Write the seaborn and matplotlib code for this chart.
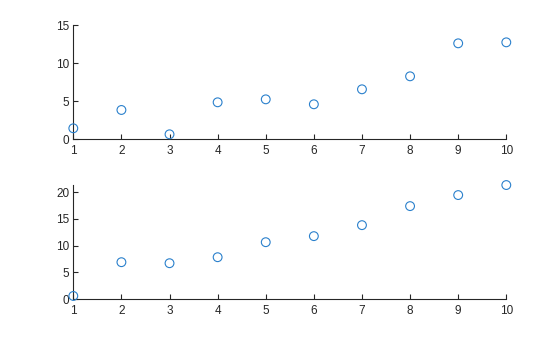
import matplotlib
matplotlib.use("Agg")
import matplotlib.pyplot as plt
import seaborn as sns
import pandas as pd

x = [1, 2, 3, 4, 5, 6, 7, 8, 9, 10]
y_top = [1.45, 3.86, 0.66, 4.87, 5.26, 4.61, 6.58, 8.29, 12.63, 12.76]
y_bottom = [0.62, 6.92, 6.73, 7.85, 10.65, 11.78, 13.83, 17.38, 19.44, 21.31]
x_ticks = [1, 2, 3, 4, 5, 6, 7, 8, 9, 10]
top_yticks = [0, 5, 10, 15]
bottom_yticks = [0, 5, 10, 15, 20]

sns.set_style("ticks")
plt.rcParams["font.family"] = ["Liberation Sans", "DejaVu Sans"]

fig = plt.figure(figsize=(5.6, 3.37), dpi=100)
ax1 = fig.add_axes([0.1309, 0.5866, 0.7732, 0.3383])
ax2 = fig.add_axes([0.1309, 0.1119, 0.7732, 0.3390])

color = "#2a80cc"
text_color = "#262626"

for ax, yv, yt, ymax in [(ax1, y_top, top_yticks, 15), (ax2, y_bottom, bottom_yticks, max(y_bottom))]:
    df = pd.DataFrame({"x": x, "y": yv})
    sns.scatterplot(data=df, x="x", y="y", ax=ax, marker="o", s=40,
                    facecolor="none", edgecolor=color, linewidth=0.8, clip_on=False, zorder=3)
    ax.set_xlim(1, 10)
    ax.set_ylim(0, ymax)
    ax.set_xticks(x_ticks)
    ax.set_yticks(yt)
    ax.set_xlabel("")
    ax.set_ylabel("")
    for s in ["top", "right"]:
        ax.spines[s].set_visible(False)
    for s in ["left", "bottom"]:
        ax.spines[s].set_color(text_color)
        ax.spines[s].set_linewidth(0.8)
    ax.tick_params(direction="in", length=3.5, width=0.8, color=text_color,
                   labelsize=8.5, labelcolor=text_color)
    ax.tick_params(axis="x", pad=4)
    ax.tick_params(axis="y", pad=3)

fig.savefig("out.png", dpi=100, facecolor="white")
